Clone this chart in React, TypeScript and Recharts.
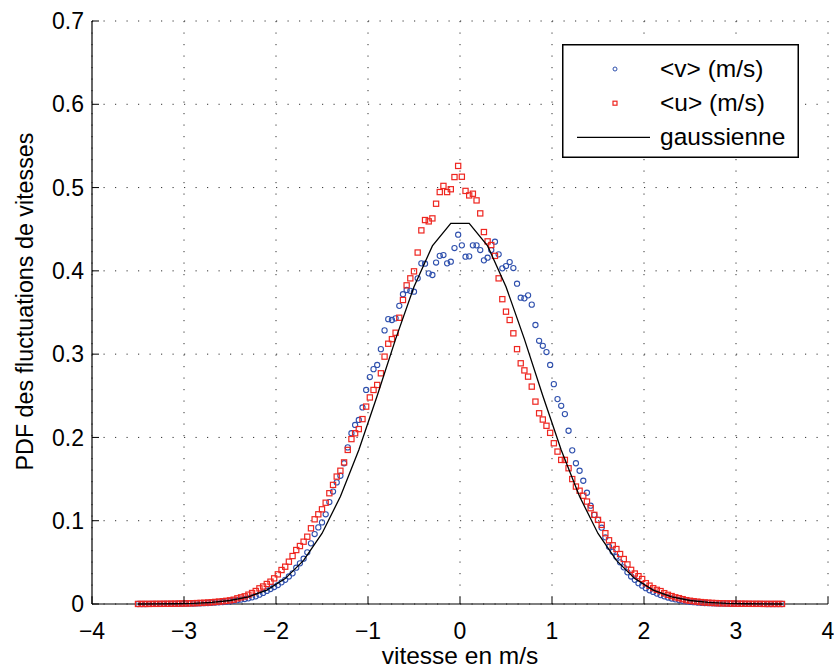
import { ComposedChart, Scatter, XAxis, YAxis, CartesianGrid, Legend } from 'recharts'

const FONT = '"Liberation Sans", Arial, Helvetica, sans-serif'
const BLUE = '#2f50ad'
const RED = '#ee2620'

const X_TICKS = [-4, -3, -2, -1, 0, 1, 2, 3, 4]
const Y_TICKS = [0, 0.1, 0.2, 0.3, 0.4, 0.5, 0.6, 0.7]

// histogram bins: centres from -3.5 to 3.5, one every 0.04 m/s
const BIN_START = -3.5
const BIN_WIDTH = 0.04

// <v> (m/s)
const V_PDF = [
  0.0000, 0.0000, 0.0000, 0.0001, 0.0001, 0.0001, 0.0001, 0.0001, 0.0002, 0.0002,
  0.0002, 0.0003, 0.0003, 0.0004, 0.0005, 0.0006, 0.0007, 0.0008, 0.0010, 0.0012,
  0.0014, 0.0017, 0.0020, 0.0024, 0.0028, 0.0033, 0.0039, 0.0046, 0.0053, 0.0060,
  0.0068, 0.008, 0.0092, 0.0112, 0.0133, 0.0157, 0.018, 0.0204, 0.0227, 0.026,
  0.029, 0.033, 0.0368, 0.0436, 0.0488, 0.0544, 0.062, 0.0728, 0.084, 0.092,
  0.098, 0.1077, 0.1224, 0.135, 0.146, 0.154, 0.169, 0.188, 0.205, 0.215,
  0.221, 0.236, 0.257, 0.2725, 0.282, 0.287, 0.306, 0.3285, 0.342, 0.341,
  0.343, 0.358, 0.372, 0.377, 0.376, 0.375, 0.391, 0.409, 0.4086, 0.397,
  0.395, 0.41, 0.418, 0.419, 0.409, 0.411, 0.4274, 0.4434,
  0.4306, 0.417, 0.4174, 0.4306, 0.4306, 0.425, 0.4126, 0.4158, 0.425, 0.435,
  0.4198, 0.403, 0.4058, 0.4106, 0.4034, 0.3846, 0.3678, 0.367, 0.3706, 0.3594,
  0.335, 0.316, 0.310, 0.3025, 0.287, 0.264, 0.246, 0.238, 0.228, 0.208,
  0.1845, 0.169, 0.160, 0.148, 0.1336, 0.118, 0.107, 0.101, 0.0916, 0.080,
  0.0688, 0.0628, 0.0568, 0.050, 0.044, 0.038, 0.033, 0.029, 0.025, 0.022,
  0.019, 0.0165, 0.0145, 0.0125, 0.0107, 0.0092, 0.0078, 0.0066, 0.0056, 0.0047,
  0.0039, 0.0032, 0.0027, 0.0022, 0.0018, 0.0015, 0.0012, 0.0010, 0.0008, 0.0007,
  0.0006, 0.0005, 0.0004, 0.0003, 0.0003, 0.0002, 0.0002, 0.0002, 0.0001, 0.0001,
  0.0001, 0.0001, 0.0001, 0.0000, 0.0000, 0.0000, 0.0000, 0.0000,
]

// <u> (m/s)
const U_PDF = [
  0.0001, 0.0001, 0.0001, 0.0001, 0.0002, 0.0002, 0.0002, 0.0003, 0.0003, 0.0004,
  0.0004, 0.0005, 0.0006, 0.0007, 0.0008, 0.0009, 0.0011, 0.0013, 0.0015, 0.0018,
  0.0021, 0.0025, 0.0029, 0.0033, 0.0038, 0.0044,
  0.0052, 0.0068, 0.008, 0.0092, 0.0112, 0.0132, 0.0156, 0.0188, 0.021, 0.024,
  0.0268, 0.0308, 0.0356, 0.0408, 0.0448, 0.0508, 0.0576, 0.0648, 0.0696, 0.0748,
  0.0808, 0.0909, 0.1017, 0.1077, 0.1137, 0.1216, 0.133, 0.143, 0.153, 0.160,
  0.170, 0.185, 0.198, 0.205, 0.210, 0.222, 0.237, 0.248, 0.257, 0.263,
  0.277, 0.297, 0.3125, 0.318, 0.3257, 0.3437, 0.365, 0.3826, 0.391, 0.3994,
  0.422, 0.4486, 0.461, 0.4594, 0.463, 0.4806, 0.4946, 0.502, 0.4946, 0.498,
  0.5126, 0.526,
  0.513, 0.496, 0.4906, 0.4926, 0.4846, 0.469, 0.4466, 0.4354, 0.431, 0.418,
  0.391, 0.366, 0.351, 0.341, 0.325, 0.306, 0.289, 0.2805, 0.273, 0.261,
  0.243, 0.229, 0.2215, 0.214, 0.2055, 0.193, 0.183, 0.173, 0.173, 0.163,
  0.150, 0.141, 0.136, 0.130, 0.123, 0.115, 0.107, 0.101, 0.095, 0.085,
  0.0765, 0.0705, 0.066, 0.060, 0.054, 0.0475, 0.041, 0.0366, 0.0334, 0.030,
  0.025, 0.022, 0.019, 0.017, 0.0155, 0.013, 0.011, 0.0095, 0.008, 0.007,
  0.0058, 0.0046, 0.0039, 0.0033, 0.0028, 0.0023, 0.0019, 0.0016, 0.0013, 0.0011,
  0.0009, 0.0008, 0.0007, 0.0006, 0.0005, 0.0004, 0.0004, 0.0003, 0.0003, 0.0002,
  0.0002, 0.0002, 0.0001, 0.0001, 0.0001, 0.0001, 0.0001, 0.0001,
]

// black reference curve, vertices every 0.2
const GAUSS_X = [
  -3.5, -3.3, -3.1, -2.9, -2.7, -2.5, -2.3, -2.1, -1.9, -1.7, -1.5, -1.3, -1.1, -0.9, -0.7, -0.5, -0.3, -0.1,
  0.1, 0.3, 0.5, 0.7, 0.9, 1.1, 1.3, 1.5, 1.7, 1.9, 2.1, 2.3, 2.5, 2.7, 2.9, 3.1, 3.3, 3.5,
]
const GAUSS_Y = [
  0.0000, 0.0001, 0.0003, 0.0008, 0.0019, 0.0042, 0.0086, 0.0167, 0.0305, 0.0524, 0.0847, 0.129, 0.185, 0.250, 0.318, 0.381, 0.430, 0.457,
  0.457, 0.430, 0.381, 0.318, 0.250, 0.185, 0.129, 0.0847, 0.0524, 0.0305, 0.0167, 0.0086, 0.0042, 0.0019, 0.0008, 0.0003, 0.0001, 0.0000,
]

const LEGEND = [
  { label: '<v> (m/s)', kind: 'circle' },
  { label: '<u> (m/s)', kind: 'square' },
  { label: 'gaussienne', kind: 'line' },
]

const binX = (i: number) => +(BIN_START + i * BIN_WIDTH).toFixed(2)
const vData = V_PDF.map((y, i) => ({ x: binX(i), y }))
const uData = U_PDF.map((y, i) => ({ x: binX(i), y }))
const gaussData = GAUSS_X.map((x, i) => ({ x, y: GAUSS_Y[i] }))

const TICK_LEN = 7
const X_MARGIN = 19
const Y_MARGIN = 8
const fmt = (v: number) => String(+v.toFixed(2)).replace('-', '\u2212')

function BottomTick({ x, y, payload }: any) {
  const ay = y - X_MARGIN
  return (
    <g>
      <line x1={x} x2={x} y1={ay} y2={ay - TICK_LEN} stroke="#000" strokeWidth={1} />
      <text x={x} y={y} dy="0.71em" textAnchor="middle" fontSize={23} fontFamily={FONT} fill="#000">{fmt(payload.value)}</text>
    </g>
  )
}

function LeftTick({ x, y, payload }: any) {
  const ax = x + Y_MARGIN
  return (
    <g>
      <line x1={ax} x2={ax + TICK_LEN} y1={y} y2={y} stroke="#000" strokeWidth={1} />
      <text x={x} y={y} dy="0.355em" textAnchor="end" fontSize={23} fontFamily={FONT} fill="#000">{fmt(payload.value)}</text>
    </g>
  )
}

const TopTick = ({ x, y }: any) => <line x1={x} x2={x} y1={y} y2={y + TICK_LEN} stroke="#000" strokeWidth={1} />
const RightTick = ({ x, y }: any) => <line x1={x} x2={x - TICK_LEN} y1={y} y2={y} stroke="#000" strokeWidth={1} />

const Circle = (p: any) => <circle cx={p.cx} cy={p.cy} r={2.6} fill="none" stroke={BLUE} strokeWidth={1.1} />
const Square = (p: any) => <rect x={p.cx - 2.6} y={p.cy - 2.6} width={5.2} height={5.2} fill="none" stroke={RED} strokeWidth={1.2} />

function LegendBox() {
  return (
    <svg width={237} height={114} style={{ display: 'block' }}>
      <rect x={0.75} y={0.75} width={235.5} height={112.5} fill="#fff" stroke="#000" strokeWidth={1.5} />
      {LEGEND.map((e, i) => {
        const base = 32.5 + 34.2 * i
        const cy = base - 7.5
        return (
          <g key={e.label}>
            {e.kind === 'circle' && <circle cx={53} cy={cy} r={2} fill="none" stroke={BLUE} strokeWidth={1} />}
            {e.kind === 'square' && <rect x={51} y={cy - 2} width={4} height={4} fill="none" stroke={RED} strokeWidth={1.2} />}
            {e.kind === 'line' && <line x1={15} x2={88} y1={cy} y2={cy} stroke="#000" strokeWidth={1.2} />}
            <text x={98} y={base} fontSize={24.5} fontFamily={FONT} fill="#000">{e.label}</text>
          </g>
        )
      })}
    </svg>
  )
}

export default function App() {
  return (
    <div style={{ position: 'absolute', left: 0, top: 0, background: '#fff' }}>
      <ComposedChart width={834} height={671} margin={{ top: 21, right: 6, bottom: 7, left: 32 }}>
        <CartesianGrid stroke="#333" strokeWidth={1} strokeDasharray="1.2 10.3" />
        <XAxis dataKey="x" type="number" domain={[-4, 4]} ticks={X_TICKS} interval={0} height={60}
          tickSize={0} tickMargin={X_MARGIN} tick={<BottomTick />} axisLine={{ stroke: '#000', strokeWidth: 1.2 }}
          label={{
            content: ({ viewBox }: any) => (
              <text x={viewBox.x + viewBox.width / 2} y={viewBox.y + 60} textAnchor="middle" fontSize={24.5} fontFamily={FONT} fill="#000">
                vitesse en m/s
              </text>
            ),
          }} />
        <XAxis xAxisId="top" orientation="top" type="number" domain={[-4, 4]} ticks={X_TICKS} interval={0} height={0}
          tickSize={0} tickMargin={0} tick={<TopTick />} axisLine={{ stroke: '#000', strokeWidth: 1.2 }} />
        <YAxis dataKey="y" type="number" domain={[0, 0.7]} ticks={Y_TICKS} interval={0} width={60}
          tickSize={0} tickMargin={Y_MARGIN} tick={<LeftTick />} axisLine={{ stroke: '#000', strokeWidth: 1.2 }}
          label={{
            content: ({ viewBox }: any) => {
              const cx = viewBox.x + 1
              const cy = viewBox.y + viewBox.height / 2 - 11
              return (
                <text x={cx} y={cy} transform={`rotate(-90 ${cx} ${cy})`} textAnchor="middle" fontSize={23.3} fontFamily={FONT} fill="#000">
                  PDF des fluctuations de vitesses
                </text>
              )
            },
          }} />
        <YAxis yAxisId="right" orientation="right" type="number" domain={[0, 0.7]} ticks={Y_TICKS} interval={0} width={0}
          tickSize={0} tickMargin={0} tick={<RightTick />} axisLine={{ stroke: '#000', strokeWidth: 1.2 }} />
        <Scatter name="<v> (m/s)" data={vData} shape={<Circle />} isAnimationActive={false} />
        <Scatter name="<u> (m/s)" data={uData} shape={<Square />} isAnimationActive={false} />
        <Scatter name="gaussienne" data={gaussData} line={{ stroke: '#000', strokeWidth: 1.3 }} shape={() => <g />} isAnimationActive={false} />
        <Legend layout="horizontal" verticalAlign="middle" align="center" content={() => <LegendBox />}
          wrapperStyle={{ left: 562, top: 44, width: 237, height: 114, right: 'auto', bottom: 'auto' }} />
      </ComposedChart>
    </div>
  )
}
